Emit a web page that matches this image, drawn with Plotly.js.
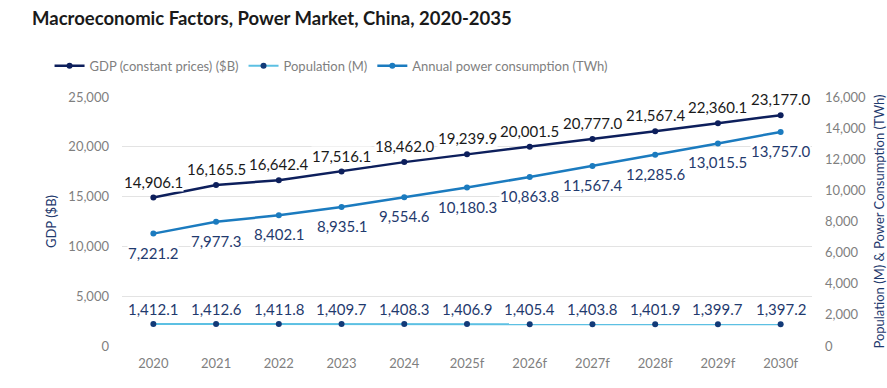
<!DOCTYPE html>
<html>
<head>
<meta charset="utf-8">
<script src="https://cdn.plot.ly/plotly-3.0.1.min.js"></script>
<style>html,body{margin:0;padding:0;background:#fff;}#chart{width:887px;height:388px;}</style>
</head>
<body>
<div id="chart"></div>
<script>
const years = ["2020","2021","2022","2023","2024","2025f","2026f","2027f","2028f","2029f","2030f"];
const gdp = [14906.1,16165.5,16642.4,17516.1,18462.0,19239.9,20001.5,20777.0,21567.4,22360.1,23177.0];
const population = [1412.1,1412.6,1411.8,1409.7,1408.3,1406.9,1405.4,1403.8,1401.9,1399.7,1397.2];
const power = [7221.2,7977.3,8402.1,8935.1,9554.6,10180.3,10863.8,11567.4,12285.6,13015.5,13757.0];

const FONT = "Lato, 'Open Sans', sans-serif";
const fmt = v => v.toLocaleString("en-US", {minimumFractionDigits: 1, maximumFractionDigits: 1});

const traces = [
  {
    name: "GDP (constant prices) ($B)", x: years, y: gdp, yaxis: "y",
    mode: "lines+markers",
    line: {color: "#0d1f5c", width: 2.5}, marker: {color: "#0d1f5c", size: 6},
    hoverinfo: "skip"
  },
  {
    name: "Population (M)", x: years, y: population, yaxis: "y2",
    mode: "lines+markers",
    line: {color: "#5cc0e3", width: 2}, marker: {color: "#123a78", size: 6},
    hoverinfo: "skip"
  },
  {
    name: "Annual power consumption (TWh)", x: years, y: power, yaxis: "y2",
    mode: "lines+markers",
    line: {color: "#1b7bbf", width: 2.5}, marker: {color: "#1b7bbf", size: 6},
    hoverinfo: "skip"
  }
];

// category positions on the x axis are the array indices
function labels(vals, yref, shift, color) {
  return vals.map((v, i) => ({
    x: i, y: v, xref: "x", yref: yref, text: fmt(v), showarrow: false,
    yshift: shift, xanchor: "center", yanchor: "middle",
    font: {family: FONT, size: 15, color: color},
    bgcolor: "#ffffff", borderpad: 0
  }));
}

const annotations = [].concat(
  labels(gdp, "y", 16, "#1a1a1a"),
  labels(population, "y2", 15, "#1f3a6e"),
  labels(power, "y2", -19, "#1f3a6e")
);

const layout = {
  width: 887, height: 388,
  margin: {l: 122, r: 75, t: 97, b: 42},
  paper_bgcolor: "#fff", plot_bgcolor: "#fff",
  font: {family: FONT, color: "#7f7f7f", size: 13},
  showlegend: true,
  annotations: annotations,
  title: {
    text: "<b>Macroeconomic Factors, Power Market, China, 2020-2035</b>",
    xref: "container", yref: "container", x: 32/887, xanchor: "left",
    y: 1 - 19/388, yanchor: "middle",
    font: {family: FONT, size: 18.5, color: "#1a1a1a"}
  },
  legend: {
    orientation: "h", x: -0.105, xanchor: "left", y: 1.125, yanchor: "middle",
    font: {family: FONT, size: 13, color: "#7f7f7f"}, traceorder: "normal",
    itemwidth: 30, bgcolor: "rgba(0,0,0,0)"
  },
  xaxis: {
    type: "category", range: [-0.5, 10.5], showgrid: false, zeroline: false,
    showline: false, ticks: "", ticklabelstandoff: 8,
    tickfont: {size: 13, color: "#7f7f7f"}, fixedrange: true
  },
  yaxis: {
    range: [0, 25000], dtick: 5000, tickformat: ",d", showgrid: true,
    gridcolor: "#e3e3e3", gridwidth: 1, zeroline: false, showline: false, ticks: "",
    ticklabelstandoff: 12, tickfont: {size: 13, color: "#7f7f7f"},
    title: {text: "GDP ($B)", font: {size: 13, color: "#1f3a6e"}, standoff: 8}
  },
  yaxis2: {
    overlaying: "y", side: "right", range: [0, 16000], dtick: 2000, tickformat: ",d",
    showgrid: false, zeroline: false, showline: false, ticks: "",
    ticklabelstandoff: 12, tickfont: {size: 13, color: "#7f7f7f"},
    title: {text: "Population (M) & Power Consumption (TWh)", font: {size: 13, color: "#1f3a6e"}, standoff: 10}
  }
};

Plotly.newPlot("chart", traces, layout, {displayModeBar: false, staticPlot: true});
</script>
</body>
</html>
